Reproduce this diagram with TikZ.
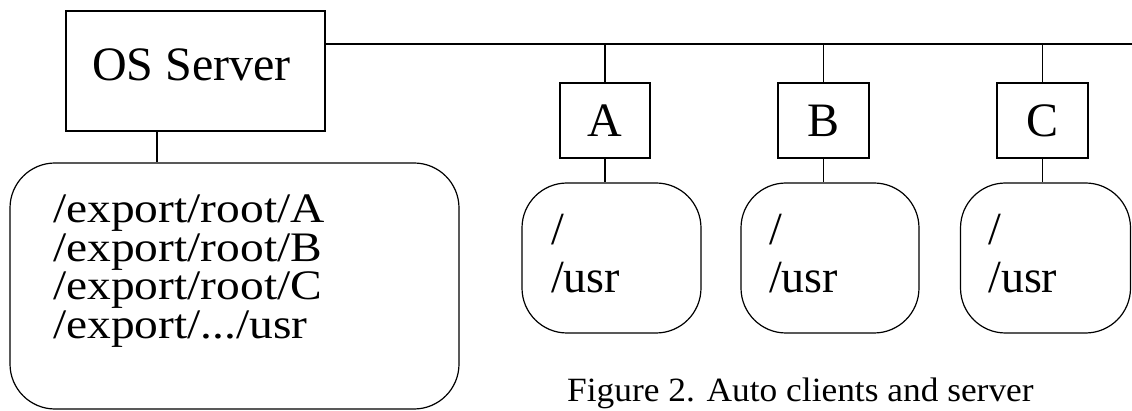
\documentclass[tikz,border=0pt]{standalone}
\usepackage{fontspec}
\setmainfont{Liberation Serif}
\newfontfamily\fsfont{Liberation Serif}[FakeStretch=1.13]
\newfontfamily\capfont{Liberation Serif}[FakeStretch=1.04]
\begin{document}
\begin{tikzpicture}[x=1pt,y=-1pt,
  box/.style={draw, line width=1.9pt, rectangle, inner sep=0pt},
  rbox/.style={draw, line width=1.2pt, rectangle, rounded corners=45pt, inner sep=0pt},
  wire/.style={line width=1.8pt},
  txt/.style={inner sep=0pt, anchor=base west},
  bigfont/.style={font=\fontsize{48}{48}\selectfont},
  fstext/.style={txt, font=\fsfont\fontsize{42}{42}\selectfont},
  cltext/.style={txt, font=\fontsize{46}{46}\selectfont}]
\useasboundingbox (0,0) rectangle (1132,411);

% server
\node[box, bigfont, minimum width=259pt, minimum height=120pt, text depth=13pt] (server) at (195.5,71) {OS Server\kern8pt};
\node[rbox, minimum width=449pt, minimum height=246pt] (fs) at (234.5,286) {};
\node[fstext] (fs1) at (53,223) {/export/root/A};
\node[fstext] (fs2) at (53,261.4) {/export/root/B};
\node[fstext] (fs3) at (53,299.8) {/export/root/C};
\node[fstext] (fs4) at (53,338.2) {/export/.../usr};
\coordinate (sx) at (157,0);
\draw[wire] (sx |- server.south) -- (sx |- fs.north);

% bus
\coordinate (busR) at (1132,44);
\draw[wire] (busR -| server.east) -- (busR);

% clients
\node[box, bigfont, minimum width=90pt, minimum height=75pt] (A) at (605,120.5) {A};
\node[box, bigfont, minimum width=91pt, minimum height=75pt] (B) at (823.5,120.5) {B};
\node[box, bigfont, minimum width=91pt, minimum height=75pt] (C) at (1042.5,120.5) {C};

\node[rbox, minimum width=179pt, minimum height=150pt] (ra) at (611.5,258) {};
\node[rbox, minimum width=178pt, minimum height=150pt] (rb) at (830,258) {};
\node[rbox, minimum width=170pt, minimum height=150pt] (rc) at (1045.5,258) {};

\node[cltext] (ra1) at (551,245) {/};
\node[cltext] (ra2) at (551,293) {/usr};
\node[cltext] (rb1) at (769,245) {/};
\node[cltext] (rb2) at (769,293) {/usr};
\node[cltext] (rc1) at (988,245) {/};
\node[cltext] (rc2) at (988,293) {/usr};

\foreach \n/\r in {A/ra, B/rb, C/rc} {
  \draw[wire] (\n.north |- busR) -- (\n.north);
  \draw[wire] (\n.south) -- (\n.south |- \r.north);
}

% caption
\node[txt, font=\capfont\fontsize{34}{34}\selectfont] (cap) at (567,401) {Figure 2. Auto clients and server};
\end{tikzpicture}
\end{document}
